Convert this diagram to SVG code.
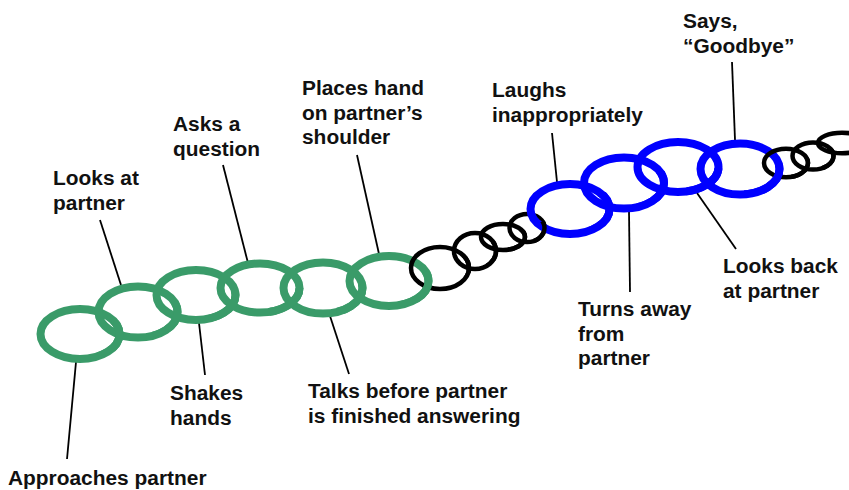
<svg xmlns="http://www.w3.org/2000/svg" xmlns:xlink="http://www.w3.org/1999/xlink" width="849" height="490" viewBox="0 0 849 490">
<style>
.g{fill:none;stroke:#3a9b69;stroke-width:8}
.b{fill:none;stroke:#0000ff;stroke-width:8}
.k{fill:none;stroke:#000;stroke-width:4.5}
.c{stroke:#000;stroke-width:1.8;fill:none}
text{font-family:"Liberation Sans",Arial,sans-serif;font-weight:bold;font-size:20.9px;fill:#111}
</style>
<defs>
<clipPath id="big" clipPathUnits="userSpaceOnUse"><rect x="-22" y="0" width="48" height="28"/></clipPath>
<clipPath id="sm" clipPathUnits="userSpaceOnUse"><rect x="-12" y="0" width="30" height="18"/></clipPath>
</defs>
<rect width="849" height="490" fill="#fff"/>
<g id="connectors">
<line class="c" x1="76" y1="362" x2="67" y2="459"/>
<line class="c" x1="100" y1="220" x2="121" y2="285"/>
<line class="c" x1="199" y1="323" x2="205" y2="375"/>
<line class="c" x1="223" y1="165" x2="248" y2="263"/>
<line class="c" x1="330" y1="316" x2="349" y2="374"/>
<line class="c" x1="357" y1="155" x2="379" y2="254"/>
<line class="c" x1="552" y1="133" x2="557" y2="182"/>
<line class="c" x1="629" y1="211" x2="630" y2="292"/>
<line class="c" x1="732" y1="62" x2="735" y2="140"/>
<line class="c" x1="697" y1="193" x2="736" y2="249"/>
</g>
<g id="chain">
<g id="n1"><ellipse id="e1" class="g" cx="80" cy="334" rx="39.5" ry="25"/></g>
<g id="n2"><ellipse id="e2" class="g" cx="138" cy="312" rx="39.5" ry="25.5"/></g>
<g id="n3"><ellipse id="e3" class="g" cx="196" cy="295" rx="39.5" ry="25"/></g>
<g id="n4"><ellipse id="e4" class="g" cx="260" cy="288" rx="39.5" ry="24.5"/></g>
<g id="n5"><ellipse id="e5" class="g" cx="323" cy="288" rx="39.5" ry="25.5"/></g>
<g id="n6"><ellipse id="e6" class="g" cx="389" cy="281" rx="39.5" ry="25"/></g>
<g id="n7"><ellipse id="e7" class="k" cx="440" cy="268" rx="29" ry="21"/></g>
<g id="n8"><ellipse id="e8" class="k" cx="475" cy="251" rx="21" ry="18"/></g>
<g id="n9"><ellipse id="e9" class="k" cx="503" cy="237" rx="22" ry="13"/></g>
<g id="n10"><ellipse id="e10" class="k" cx="527" cy="228" rx="17.5" ry="14"/></g>
<g id="n11"><ellipse id="e11" class="b" cx="570" cy="209" rx="39.5" ry="25"/></g>
<g id="n12"><ellipse id="e12" class="b" cx="624" cy="183" rx="40" ry="25.5"/></g>
<g id="n13"><ellipse id="e13" class="b" cx="678" cy="167" rx="40.5" ry="25"/></g>
<g id="n14"><ellipse id="e14" class="b" cx="740" cy="169" rx="39.5" ry="25.5"/></g>
<g id="n15"><ellipse id="e15" class="k" cx="786" cy="163" rx="22" ry="14.3"/></g>
<g id="n16"><ellipse id="e16" class="k" cx="813" cy="156" rx="20.5" ry="13.6"/></g>
<g id="n17"><ellipse id="e17" class="k" cx="842" cy="143" rx="24" ry="10.3"/></g>
</g>
<g id="interlocks">
<g transform="translate(109 323) rotate(-20.8)" clip-path="url(#big)"><use xlink:href="#e1" href="#e1" transform="rotate(20.8) translate(-109 -323)"/></g>
<g transform="translate(167 303.5) rotate(-16.3)" clip-path="url(#big)"><use xlink:href="#e2" href="#e2" transform="rotate(16.3) translate(-167 -303.5)"/></g>
<g transform="translate(228 291.5) rotate(-6.2)" clip-path="url(#big)"><use xlink:href="#e3" href="#e3" transform="rotate(6.2) translate(-228 -291.5)"/></g>
<g transform="translate(291.5 288)" clip-path="url(#big)"><use xlink:href="#e4" href="#e4" transform="translate(-291.5 -288)"/></g>
<g transform="translate(356 284.5) rotate(-6.1)" clip-path="url(#big)"><use xlink:href="#e5" href="#e5" transform="rotate(6.1) translate(-356 -284.5)"/></g>
<g transform="translate(414.5 274.5) rotate(-14.3)" clip-path="url(#big)"><use xlink:href="#e6" href="#e6" transform="rotate(14.3) translate(-414.5 -274.5)"/></g>
<g transform="translate(457.5 259.5) rotate(-25.9)" clip-path="url(#sm)"><use xlink:href="#e7" href="#e7" transform="rotate(25.9) translate(-457.5 -259.5)"/></g>
<g transform="translate(489 244) rotate(-26.6)" clip-path="url(#sm)"><use xlink:href="#e8" href="#e8" transform="rotate(26.6) translate(-489 -244)"/></g>
<g transform="translate(515 232.5) rotate(-20.6)" clip-path="url(#sm)"><use xlink:href="#e9" href="#e9" transform="rotate(20.6) translate(-515 -232.5)"/></g>
<g transform="translate(548.5 218.5) rotate(-23.8)" clip-path="url(#big)"><use xlink:href="#e10" href="#e10" transform="rotate(23.8) translate(-548.5 -218.5)"/></g>
<g transform="translate(597 196) rotate(-25.7)" clip-path="url(#big)"><use xlink:href="#e11" href="#e11" transform="rotate(25.7) translate(-597 -196)"/></g>
<g transform="translate(651 175) rotate(-16.5)" clip-path="url(#big)"><use xlink:href="#e12" href="#e12" transform="rotate(16.5) translate(-651 -175)"/></g>
<g transform="translate(709 168) rotate(1.8)" clip-path="url(#big)"><use xlink:href="#e13" href="#e13" transform="rotate(-1.8) translate(-709 -168)"/></g>
<g transform="translate(763 166) rotate(-7.4)" clip-path="url(#big)"><use xlink:href="#e14" href="#e14" transform="rotate(7.4) translate(-763 -166)"/></g>
<g transform="translate(799.5 159.5) rotate(-14.5)" clip-path="url(#sm)"><use xlink:href="#e15" href="#e15" transform="rotate(14.5) translate(-799.5 -159.5)"/></g>
<g transform="translate(827.5 149.5) rotate(-24.1)" clip-path="url(#sm)"><use xlink:href="#e16" href="#e16" transform="rotate(24.1) translate(-827.5 -149.5)"/></g>
</g>
<g id="labels">
<text x="8" y="485">Approaches partner</text>
<text x="53" y="185">Looks at<tspan x="53" dy="24.5">partner</tspan></text>
<text x="170" y="400">Shakes<tspan x="170" dy="24.5">hands</tspan></text>
<text x="173" y="131">Asks a<tspan x="173" dy="24.5">question</tspan></text>
<text x="308" y="398">Talks before partner<tspan x="308" dy="24.5">is finished answering</tspan></text>
<text x="302" y="95">Places hand<tspan x="302" dy="24.5">on partner’s</tspan><tspan x="302" dy="24.5">shoulder</tspan></text>
<text x="492" y="97">Laughs<tspan x="492" dy="24.5">inappropriately</tspan></text>
<text x="683" y="28">Says,<tspan x="683" dy="24.5">“Goodbye”</tspan></text>
<text x="578" y="316">Turns away<tspan x="578" dy="24.5">from</tspan><tspan x="578" dy="24.5">partner</tspan></text>
<text x="723" y="273">Looks back<tspan x="723" dy="24.5">at partner</tspan></text>
</g>
</svg>
